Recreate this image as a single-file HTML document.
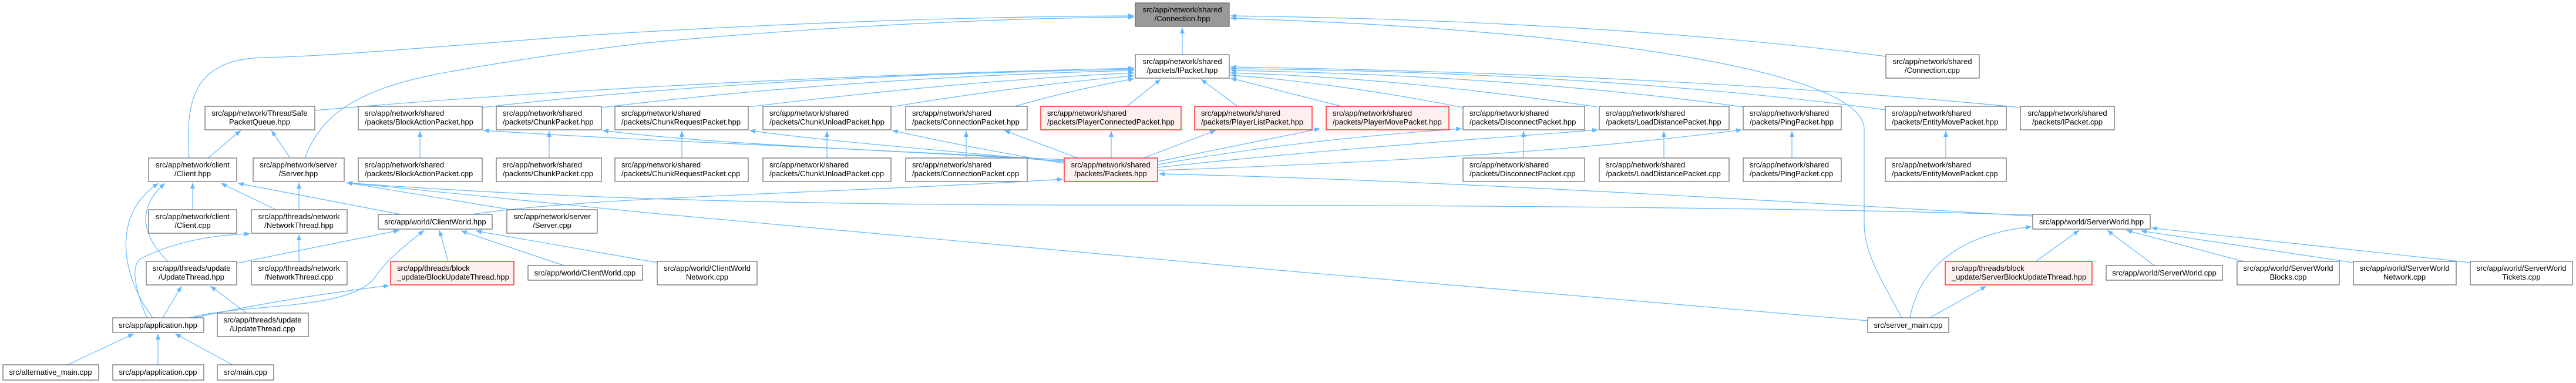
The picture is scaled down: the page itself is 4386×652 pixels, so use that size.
<!DOCTYPE html>
<html><head><meta charset="utf-8"><style>
html,body{margin:0;padding:0;background:#fff;}
svg{display:block;}
text{font-family:"Liberation Sans",Arial,sans-serif;font-size:13px;fill:#000;}
.n rect{fill:#fff;stroke:#666;stroke-width:1.2;}
.r rect{fill:#fff0f0;stroke:#ff0000;stroke-width:1.2;}
.g rect{fill:#999;stroke:#666;stroke-width:1.2;}
.e path{fill:none;stroke:#63b8ff;stroke-width:1.2;marker-end:url(#a);}
</style></head><body>
<svg width="4386" height="652" viewBox="0 0 4386 652" xmlns="http://www.w3.org/2000/svg">
<defs><marker id="a" markerUnits="userSpaceOnUse" markerWidth="11" markerHeight="8" refX="10" refY="4" orient="auto"><path d="M0,0 L10,4 L0,8 z" fill="#63b8ff"/></marker></defs>
<g class="e">
<path d="M2013,93 L2013,47"/>
<path d="M322,269 C315,170 330,100 450,98 C560,96 800,75 1000,60 C1400,35 1700,28 1931,27"/>
<path d="M519,269 C545,200 600,150 772,121 C900,98 1000,85 1100,73 C1400,45 1700,31 1931,29"/>
<path d="M3211,96 C2900,55 2500,32 2095,27"/>
<path d="M3238,541 C3200,470 3174,430 3174,380 L3174,220 C3174,120 2700,50 2095,31"/>
<path d="M536,188 C800,165 1300,130 1931,116"/>
<path d="M821,183 C1100,150 1500,125 1931,118"/>
<path d="M1024,183 C1300,150 1600,128 1931,120"/>
<path d="M1274,182 C1500,155 1700,135 1931,124"/>
<path d="M1517,182 C1650,160 1800,140 1931,129"/>
<path d="M1728,181 C1800,160 1870,145 1931,134"/>
<path d="M1919,181 L1976,135"/>
<path d="M2107,181 L2045,135"/>
<path d="M2284,181 L2095,133"/>
<path d="M2491,183 C2350,155 2200,135 2095,128"/>
<path d="M2719,182 C2500,150 2300,130 2095,124"/>
<path d="M2968,182 C2700,145 2400,125 2095,120"/>
<path d="M3210,187 C2900,145 2500,120 2095,117"/>
<path d="M3440,183 C3000,140 2500,120 2095,114"/>
<path d="M1812,272 C1400,250 1100,240 823,222"/>
<path d="M1812,274 C1500,255 1200,245 1026,222"/>
<path d="M1812,276 C1600,255 1400,240 1276,222"/>
<path d="M1812,278 C1700,260 1600,240 1519,222"/>
<path d="M1835,269 L1710,222"/>
<path d="M1892,269 L1892,223"/>
<path d="M1947,269 L2070,222"/>
<path d="M1971,275 L2248,219"/>
<path d="M1971,280 C2200,240 2400,225 2489,219"/>
<path d="M1971,285 C2300,250 2550,235 2721,221"/>
<path d="M1971,290 C2400,275 2700,255 2966,221"/>
<path d="M803,365 C1000,335 1400,330 1810,305"/>
<path d="M3461,368 C3000,340 2400,305 1973,296"/>
<path d="M3461,366 C3000,352 2400,349 1800,349 C1300,348 900,335 590,311"/>
<path d="M3180,546 L2200,462 L1100,362 L590,311"/>
<path d="M870,357 L590,311"/>
<path d="M509,357 L509,311"/>
<path d="M328,357 L328,311"/>
<path d="M470,357 L376,312"/>
<path d="M683,365 L405,312"/>
<path d="M286,445 C250,410 225,360 281,312"/>
<path d="M260,541 C200,460 195,360 270,312"/>
<path d="M250,541 C225,480 225,450 240,440 C290,415 350,400 426,398"/>
<path d="M354,269 L410,222"/>
<path d="M494,269 L462,222"/>
<path d="M403,448 L680,392"/>
<path d="M323,541 C420,515 600,530 640,470 C660,440 700,410 722,392"/>
<path d="M763,445 L748,392"/>
<path d="M960,452 L785,393"/>
<path d="M1119,447 L810,393"/>
<path d="M509,445 L509,399"/>
<path d="M330,541 C450,515 550,500 663,486"/>
<path d="M277,541 L309,487"/>
<path d="M420,533 L358,487"/>
<path d="M115,621 L228,568"/>
<path d="M269,621 L269,568"/>
<path d="M396,621 L298,568"/>
<path d="M3252,541 C3265,470 3320,400 3459,386"/>
<path d="M3466,445 L3540,392"/>
<path d="M3668,452 L3588,392"/>
<path d="M3820,445 L3620,392"/>
<path d="M4007,447 L3645,393"/>
<path d="M4206,447 L3663,388"/>
<path d="M3286,541 L3382,487"/>
<path d="M715,269 L715,223"/>
<path d="M935,269 L935,223"/>
<path d="M1161,269 L1161,223"/>
<path d="M1408,269 L1408,223"/>
<path d="M1645,269 L1645,223"/>
<path d="M2594,269 L2594,223"/>
<path d="M2833,269 L2833,223"/>
<path d="M3051,269 L3051,223"/>
<path d="M3313,269 L3313,223"/>
</g>

<!-- nodes -->
<g class="g"><rect x="1933" y="5" width="160" height="40"/><text x="2013" y="21" text-anchor="middle">src/app/network/shared</text><text x="2013" y="36" text-anchor="middle">/Connection.hpp</text></g>
<g class="n"><rect x="1933" y="93" width="160" height="40"/><text x="2013" y="109" text-anchor="middle">src/app/network/shared</text><text x="2013" y="124" text-anchor="middle">/packets/IPacket.hpp</text></g>
<g class="n"><rect x="3211" y="93" width="159" height="40"/><text x="3290" y="109" text-anchor="middle">src/app/network/shared</text><text x="3290" y="124" text-anchor="middle">/Connection.cpp</text></g>

<g class="n"><rect x="349" y="181" width="187" height="40"/><text x="442" y="197" text-anchor="middle">src/app/network/ThreadSafe</text><text x="442" y="212" text-anchor="middle">PacketQueue.hpp</text></g>
<g class="n"><rect x="610" y="181" width="211" height="40"/><text x="621" y="197">src/app/network/shared</text><text x="621" y="212">/packets/BlockActionPacket.hpp</text></g>
<g class="n"><rect x="845" y="181" width="179" height="40"/><text x="856" y="197">src/app/network/shared</text><text x="856" y="212">/packets/ChunkPacket.hpp</text></g>
<g class="n"><rect x="1047" y="181" width="227" height="40"/><text x="1058" y="197">src/app/network/shared</text><text x="1058" y="212">/packets/ChunkRequestPacket.hpp</text></g>
<g class="n"><rect x="1299" y="181" width="218" height="40"/><text x="1310" y="197">src/app/network/shared</text><text x="1310" y="212">/packets/ChunkUnloadPacket.hpp</text></g>
<g class="n"><rect x="1542" y="181" width="207" height="40"/><text x="1553" y="197">src/app/network/shared</text><text x="1553" y="212">/packets/ConnectionPacket.hpp</text></g>
<g class="r"><rect x="1772" y="181" width="239" height="40"/><text x="1783" y="197">src/app/network/shared</text><text x="1783" y="212">/packets/PlayerConnectedPacket.hpp</text></g>
<g class="r"><rect x="2034" y="181" width="200" height="40"/><text x="2045" y="197">src/app/network/shared</text><text x="2045" y="212">/packets/PlayerListPacket.hpp</text></g>
<g class="r"><rect x="2258" y="181" width="209" height="40"/><text x="2269" y="197">src/app/network/shared</text><text x="2269" y="212">/packets/PlayerMovePacket.hpp</text></g>
<g class="n"><rect x="2491" y="181" width="207" height="40"/><text x="2502" y="197">src/app/network/shared</text><text x="2502" y="212">/packets/DisconnectPacket.hpp</text></g>
<g class="n"><rect x="2723" y="181" width="221" height="40"/><text x="2734" y="197">src/app/network/shared</text><text x="2734" y="212">/packets/LoadDistancePacket.hpp</text></g>
<g class="n"><rect x="2968" y="181" width="167" height="40"/><text x="2979" y="197">src/app/network/shared</text><text x="2979" y="212">/packets/PingPacket.hpp</text></g>
<g class="n"><rect x="3210" y="181" width="206" height="40"/><text x="3221" y="197">src/app/network/shared</text><text x="3221" y="212">/packets/EntityMovePacket.hpp</text></g>
<g class="n"><rect x="3440" y="181" width="160" height="40"/><text x="3520" y="197" text-anchor="middle">src/app/network/shared</text><text x="3520" y="212" text-anchor="middle">/packets/IPacket.cpp</text></g>

<g class="n"><rect x="253" y="269" width="150" height="40"/><text x="328" y="285" text-anchor="middle">src/app/network/client</text><text x="328" y="300" text-anchor="middle">/Client.hpp</text></g>
<g class="n"><rect x="431" y="269" width="155" height="40"/><text x="508" y="285" text-anchor="middle">src/app/network/server</text><text x="508" y="300" text-anchor="middle">/Server.hpp</text></g>
<g class="n"><rect x="610" y="269" width="211" height="40"/><text x="621" y="285">src/app/network/shared</text><text x="621" y="300">/packets/BlockActionPacket.cpp</text></g>
<g class="n"><rect x="845" y="269" width="179" height="40"/><text x="856" y="285">src/app/network/shared</text><text x="856" y="300">/packets/ChunkPacket.cpp</text></g>
<g class="n"><rect x="1047" y="269" width="227" height="40"/><text x="1058" y="285">src/app/network/shared</text><text x="1058" y="300">/packets/ChunkRequestPacket.cpp</text></g>
<g class="n"><rect x="1299" y="269" width="218" height="40"/><text x="1310" y="285">src/app/network/shared</text><text x="1310" y="300">/packets/ChunkUnloadPacket.cpp</text></g>
<g class="n"><rect x="1542" y="269" width="207" height="40"/><text x="1553" y="285">src/app/network/shared</text><text x="1553" y="300">/packets/ConnectionPacket.cpp</text></g>
<g class="r"><rect x="1812" y="269" width="159" height="40"/><text x="1891" y="285" text-anchor="middle">src/app/network/shared</text><text x="1891" y="300" text-anchor="middle">/packets/Packets.hpp</text></g>
<g class="n"><rect x="2491" y="269" width="207" height="40"/><text x="2502" y="285">src/app/network/shared</text><text x="2502" y="300">/packets/DisconnectPacket.cpp</text></g>
<g class="n"><rect x="2723" y="269" width="221" height="40"/><text x="2734" y="285">src/app/network/shared</text><text x="2734" y="300">/packets/LoadDistancePacket.cpp</text></g>
<g class="n"><rect x="2968" y="269" width="167" height="40"/><text x="2979" y="285">src/app/network/shared</text><text x="2979" y="300">/packets/PingPacket.cpp</text></g>
<g class="n"><rect x="3210" y="269" width="206" height="40"/><text x="3221" y="285">src/app/network/shared</text><text x="3221" y="300">/packets/EntityMovePacket.cpp</text></g>

<g class="n"><rect x="253" y="357" width="150" height="40"/><text x="328" y="373" text-anchor="middle">src/app/network/client</text><text x="328" y="388" text-anchor="middle">/Client.cpp</text></g>
<g class="n"><rect x="428" y="357" width="163" height="40"/><text x="509" y="373" text-anchor="middle">src/app/threads/network</text><text x="509" y="388" text-anchor="middle">/NetworkThread.hpp</text></g>
<g class="n"><rect x="644" y="365" width="194" height="25"/><text x="741" y="382" text-anchor="middle">src/app/world/ClientWorld.hpp</text></g>
<g class="n"><rect x="863" y="357" width="154" height="40"/><text x="940" y="373" text-anchor="middle">src/app/network/server</text><text x="940" y="388" text-anchor="middle">/Server.cpp</text></g>
<g class="n"><rect x="3461" y="365" width="200" height="25"/><text x="3561" y="382" text-anchor="middle">src/app/world/ServerWorld.hpp</text></g>

<g class="n"><rect x="249" y="445" width="154" height="40"/><text x="326" y="461" text-anchor="middle">src/app/threads/update</text><text x="326" y="476" text-anchor="middle">/UpdateThread.hpp</text></g>
<g class="n"><rect x="428" y="445" width="163" height="40"/><text x="509" y="461" text-anchor="middle">src/app/threads/network</text><text x="509" y="476" text-anchor="middle">/NetworkThread.cpp</text></g>
<g class="r"><rect x="665" y="445" width="210" height="40"/><text x="676" y="461">src/app/threads/block</text><text x="676" y="476">_update/BlockUpdateThread.hpp</text></g>
<g class="n"><rect x="899" y="452" width="195" height="25"/><text x="996" y="469" text-anchor="middle">src/app/world/ClientWorld.cpp</text></g>
<g class="n"><rect x="1119" y="445" width="170" height="40"/><text x="1204" y="461" text-anchor="middle">src/app/world/ClientWorld</text><text x="1204" y="476" text-anchor="middle">Network.cpp</text></g>
<g class="r"><rect x="3312" y="445" width="250" height="40"/><text x="3323" y="461">src/app/threads/block</text><text x="3323" y="476">_update/ServerBlockUpdateThread.hpp</text></g>
<g class="n"><rect x="3586" y="452" width="198" height="25"/><text x="3685" y="469" text-anchor="middle">src/app/world/ServerWorld.cpp</text></g>
<g class="n"><rect x="3809" y="445" width="174" height="40"/><text x="3896" y="461" text-anchor="middle">src/app/world/ServerWorld</text><text x="3896" y="476" text-anchor="middle">Blocks.cpp</text></g>
<g class="n"><rect x="4007" y="445" width="175" height="40"/><text x="4094" y="461" text-anchor="middle">src/app/world/ServerWorld</text><text x="4094" y="476" text-anchor="middle">Network.cpp</text></g>
<g class="n"><rect x="4206" y="445" width="174" height="40"/><text x="4293" y="461" text-anchor="middle">src/app/world/ServerWorld</text><text x="4293" y="476" text-anchor="middle">Tickets.cpp</text></g>

<g class="n"><rect x="192" y="541" width="155" height="25"/><text x="269" y="558" text-anchor="middle">src/app/application.hpp</text></g>
<g class="n"><rect x="370" y="533" width="155" height="40"/><text x="447" y="549" text-anchor="middle">src/app/threads/update</text><text x="447" y="564" text-anchor="middle">/UpdateThread.cpp</text></g>
<g class="n"><rect x="3180" y="541" width="138" height="25"/><text x="3249" y="558" text-anchor="middle">src/server_main.cpp</text></g>

<g class="n"><rect x="5" y="621" width="163" height="26"/><text x="86" y="638" text-anchor="middle">src/alternative_main.cpp</text></g>
<g class="n"><rect x="192" y="621" width="155" height="26"/><text x="269" y="638" text-anchor="middle">src/app/application.cpp</text></g>
<g class="n"><rect x="370" y="621" width="96" height="26"/><text x="418" y="638" text-anchor="middle">src/main.cpp</text></g>
</svg>
</body></html>
